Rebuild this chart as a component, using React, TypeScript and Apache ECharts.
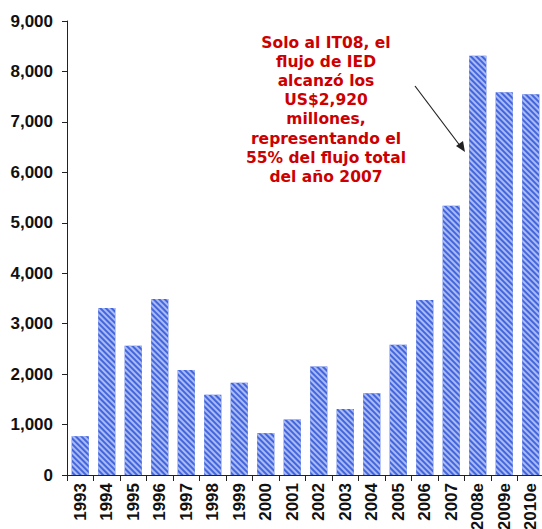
import React, { useEffect, useRef } from "react";
import * as echarts from "echarts";

const years = ["1993","1994","1995","1996","1997","1998","1999","2000","2001","2002","2003","2004","2005","2006","2007","2008e","2009e","2010e"];
const ied = [770, 3310, 2560, 3490, 2080, 1590, 1830, 830, 1100, 2150, 1310, 1620, 2580, 3470, 5340, 8310, 7590, 7550];
const yTicks = { min: 0, max: 9000, interval: 1000 };
const noteLines = ["Solo al IT08, el", "flujo de IED", "alcanzó los", "US$2,920", "millones,", "representando el", "55% del flujo total", "del año 2007"];

export default function App() {
  const ref = useRef<HTMLDivElement>(null);
  useEffect(() => {
    const chart = echarts.init(ref.current!, null, { renderer: "svg" });
    chart.setOption({
      animation: false,
      backgroundColor: "#ffffff",
      grid: { left: 67, right: -2, top: 21, bottom: 54, containLabel: false, outerBoundsMode: "none" },
      xAxis: {
        type: "category",
        data: years,
        axisLine: { lineStyle: { color: "#222", width: 1 } },
        axisTick: { show: true, alignWithLabel: false, length: 6, lineStyle: { color: "#222" } },
        axisLabel: {
          rotate: 90,
          margin: 8,
          interval: 0,
          color: "#111",
          fontFamily: "Arial",
          fontWeight: "bold",
          fontSize: 17,
        },
      },
      yAxis: {
        type: "value",
        min: yTicks.min,
        max: yTicks.max,
        interval: yTicks.interval,
        axisLine: { show: true, lineStyle: { color: "#222", width: 1 } },
        axisTick: { show: true, inside: false, length: 5, lineStyle: { color: "#222" } },
        splitLine: { show: false },
        axisLabel: {
          margin: 14,
          color: "#111",
          fontFamily: "Arial",
          fontWeight: "bold",
          fontSize: 17,
          formatter: (v: number) => v.toLocaleString("en-US"),
        },
      },
      series: [
        {
          type: "bar",
          data: ied,
          barCategoryGap: "35%",
          itemStyle: {
            color: "#4466dd",
            decal: {
              symbol: "rect",
              symbolSize: 1,
              dashArrayX: [[1, 0]],
              dashArrayY: [1.3, 1.5],
              rotation: Math.PI / 4,
              color: "rgba(180,196,248,0.9)",
            },
          },
        },
      ],
      graphic: [
        {
          type: "text",
          x: 326,
          y: 33,
          style: {
            text: noteLines.join("\n"),
            fill: "#cc0000",
            font: "bold 15.5px 'DejaVu Sans', Verdana, sans-serif",
            lineHeight: 19.2,
            align: "center",
            verticalAlign: "top",
          },
        },
        {
          type: "line",
          shape: { x1: 415, y1: 86, x2: 461, y2: 147 },
          style: { stroke: "#222", lineWidth: 1.2 },
        },
        {
          type: "polygon",
          shape: { points: [[465, 152], [456, 146], [463, 141]] },
          style: { fill: "#222" },
        },
      ],
    });
    return () => chart.dispose();
  }, []);
  return (
    <div style={{ position: "fixed", left: 0, top: 0, width: 542, height: 529, overflow: "hidden", background: "#fff" }}>
      <div ref={ref} style={{ width: 542, height: 529 }} />
    </div>
  );
}
